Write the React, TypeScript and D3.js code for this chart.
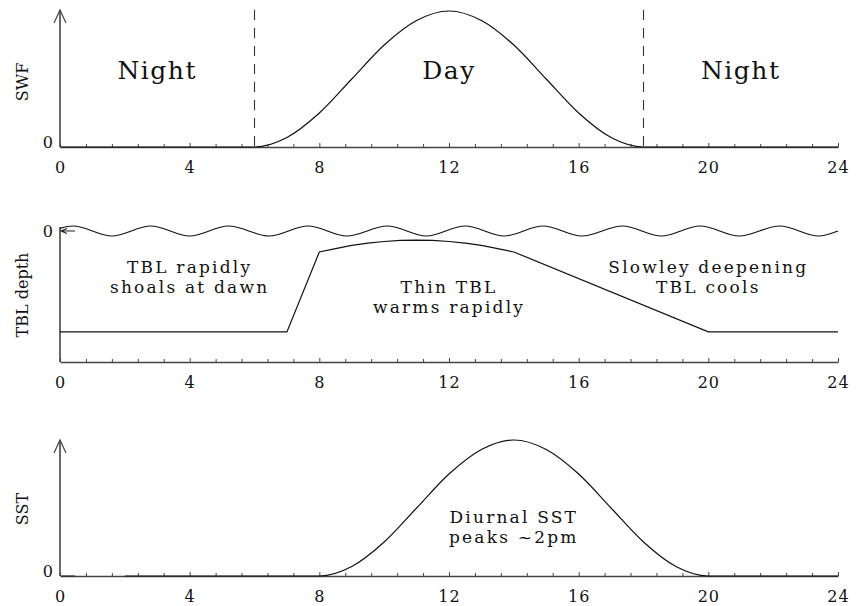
import React, { useEffect, useRef } from 'react';
import * as d3 from 'd3';

const W = 860;
const H = 606;

const xTicks = [0, 4, 8, 12, 16, 20, 24];

const swfHours = [0,1,2,3,4,5,6,7,8,9,10,11,12,13,14,15,16,17,18,19,20,21,22,23,24];
const swfValues = [0,0,0,0,0,0,0,0.07,0.25,0.5,0.75,0.93,1,0.93,0.75,0.5,0.25,0.07,0,0,0,0,0,0,0];

const sunriseHour = 6;
const sunsetHour = 18;

const tblHours = [0,7,8,8.5,9,9.5,10,10.5,11,11.5,12,12.5,13,13.5,14,20,24];
const tblDepth = [0.77,0.77,0.16,0.135,0.11,0.093,0.08,0.072,0.069,0.072,0.08,0.093,0.11,0.135,0.16,0.77,0.77];

const waveHours = [0,0.4,1.6,2.8,4.0,5.2,6.45,7.65,8.85,10.1,11.3,12.5,13.7,14.9,16.1,17.35,18.55,19.75,20.95,22.2,23.4,24];
const waveDepth = [-0.02,-0.038,0.038,-0.038,0.038,-0.038,0.038,-0.038,0.038,-0.038,0.038,-0.038,0.038,-0.038,0.038,-0.038,0.038,-0.038,0.038,-0.038,0.038,0];

const sstHours = [2,3,4,5,6,7,8,9,10,11,12,13,14,15,16,17,18,19,20,21,22,23,24];
const sstValues = [0,0,0,0,0,0,0,0.07,0.25,0.5,0.75,0.93,1,0.93,0.75,0.5,0.25,0.07,0,0,0,0,0];

const FONT = '"DejaVu Serif", serif';
const AXIS_COLOR = '#444';
const LINE_COLOR = '#111';

export default function App() {
  const ref = useRef<SVGSVGElement | null>(null);

  useEffect(() => {
    const svg = d3.select(ref.current);
    svg.selectAll('*').remove();

    const x = d3.scaleLinear().domain([0, 24]).range([60, 838]);
    const ySwf = d3.scaleLinear().domain([0, 1]).range([147, 11]);
    const yDepth = d3.scaleLinear().domain([0, 1]).range([231, 362]);
    const ySst = d3.scaleLinear().domain([0, 1]).range([576, 440]);

    const minorTicks = d3.range(0, 24.001, 0.8).filter(v => Math.abs(v / 4 - Math.round(v / 4)) > 1e-6);

    const drawXAxis = (yPos: number) => {
      const gMinor = svg.append('g').attr('transform', `translate(0,${yPos})`);
      gMinor.call(d3.axisBottom(x).tickValues(minorTicks).tickSizeInner(-3).tickSizeOuter(0).tickFormat(() => ''));
      gMinor.select('.domain').remove();
      gMinor.selectAll('line').attr('stroke', AXIS_COLOR).attr('stroke-width', 1);

      const g = svg.append('g').attr('transform', `translate(0,${yPos})`);
      g.call(d3.axisBottom(x).tickValues(xTicks).tickSizeInner(-4).tickSizeOuter(0).tickPadding(15).tickFormat(d3.format('d')));
      g.select('.domain').attr('stroke', AXIS_COLOR).attr('stroke-width', 1.6);
      g.selectAll('line').attr('stroke', AXIS_COLOR).attr('stroke-width', 1);
      g.selectAll('text').attr('font-family', FONT).attr('font-size', 16).attr('letter-spacing', 1).attr('fill', '#111');
    };

    const yAxisLine = (y0: number, y1: number, arrow: boolean) => {
      svg.append('line').attr('x1', x(0)).attr('x2', x(0)).attr('y1', y0).attr('y2', y1)
        .attr('stroke', AXIS_COLOR).attr('stroke-width', 1.6);
      if (arrow) {
        svg.append('path')
          .attr('d', `M${x(0) - 6},${y1 + 13}L${x(0)},${y1}L${x(0) + 6},${y1 + 13}`)
          .attr('fill', 'none').attr('stroke', AXIS_COLOR).attr('stroke-width', 1.2);
      }
    };

    const yLabel = (text: string, cy: number) => {
      svg.append('text').attr('transform', `translate(28,${cy}) rotate(-90)`)
        .attr('text-anchor', 'middle').attr('font-family', FONT).attr('font-size', 16).attr('fill', '#111').text(text);
    };

    const zeroLabel = (y: number) => {
      svg.append('text').attr('x', 53).attr('y', y).attr('text-anchor', 'end')
        .attr('font-family', FONT).attr('font-size', 16).attr('fill', '#111').text('0');
    };

    const label = (lines: string[], cx: number, baseline: number, size: number, lh: number, spacing: number) => {
      lines.forEach((s, i) => {
        svg.append('text').attr('font-family', FONT).attr('font-size', size).attr('fill', '#111')
          .attr('text-anchor', 'middle').attr('letter-spacing', spacing)
          .attr('x', cx).attr('y', baseline + i * lh).text(s);
      });
    };

    const smooth = d3.line<[number, number]>().curve(d3.curveMonotoneX);
    const straight = d3.line<[number, number]>();

    // ---------- Panel 1: SWF ----------
    drawXAxis(ySwf(0));
    yAxisLine(ySwf(0), 10, true);
    yLabel('SWF', 82);
    zeroLabel(ySwf(0) + 1);
    [sunriseHour, sunsetHour].forEach(h => {
      svg.append('line').attr('x1', x(h)).attr('x2', x(h)).attr('y1', 10).attr('y2', ySwf(0))
        .attr('stroke', '#333').attr('stroke-width', 1.1).attr('stroke-dasharray', '10,8');
    });
    svg.append('path')
      .attr('d', smooth(swfHours.map((h, i) => [x(h), ySwf(swfValues[i])] as [number, number])))
      .attr('fill', 'none').attr('stroke', LINE_COLOR).attr('stroke-width', 1.2);
    label(['Night'], x(3), 79, 25, 0, 1.5);
    label(['Day'], x(12), 79, 25, 0, 1.5);
    label(['Night'], x(21), 79, 25, 0, 1.5);

    // ---------- Panel 2: TBL depth ----------
    drawXAxis(yDepth(1));
    yAxisLine(yDepth(1), 227, false);
    yLabel('TBL depth', 295);
    zeroLabel(yDepth(0) + 6);
    svg.append('path')
      .attr('d', `M${x(0) + 15},${yDepth(0)}L${x(0) + 1},${yDepth(0)}M${x(0) + 7},${yDepth(0) - 2.5}L${x(0) + 1},${yDepth(0)}L${x(0) + 7},${yDepth(0) + 2.5}`)
      .attr('fill', 'none').attr('stroke', '#222').attr('stroke-width', 1.1);
    svg.append('path')
      .attr('d', smooth(waveHours.map((h, i) => [x(h), yDepth(waveDepth[i])] as [number, number])))
      .attr('fill', 'none').attr('stroke', LINE_COLOR).attr('stroke-width', 1.2);
    svg.append('path')
      .attr('d', straight(tblHours.map((h, i) => [x(h), yDepth(tblDepth[i])] as [number, number])))
      .attr('fill', 'none').attr('stroke', LINE_COLOR).attr('stroke-width', 1.2);
    label(['TBL rapidly', 'shoals at dawn'], x(4), 273, 17, 20, 2.2);
    label(['Thin TBL', 'warms rapidly'], x(12), 293, 17, 20, 2.2);
    label(['Slowley deepening', 'TBL cools'], x(20), 273, 17, 20, 2.2);

    // ---------- Panel 3: SST ----------
    drawXAxis(ySst(0));
    yAxisLine(ySst(0), 440, true);
    yLabel('SST', 509);
    zeroLabel(ySst(0) + 1);
    svg.append('path')
      .attr('d', `M${x(0) + 15},${ySst(0)}L${x(0) + 1},${ySst(0)}`)
      .attr('fill', 'none').attr('stroke', '#222').attr('stroke-width', 1.1);
    svg.append('path')
      .attr('d', smooth(sstHours.map((h, i) => [x(h), ySst(sstValues[i])] as [number, number])))
      .attr('fill', 'none').attr('stroke', LINE_COLOR).attr('stroke-width', 1.2);
    label(['Diurnal SST', 'peaks ~2pm'], x(14), 523, 17, 20, 2.2);
  }, []);

  return (
    <svg ref={ref} width={W} height={H} viewBox={`0 0 ${W} ${H}`}
      style={{ position: 'absolute', left: 0, top: 0, background: '#fff', display: 'block' }} />
  );
}
